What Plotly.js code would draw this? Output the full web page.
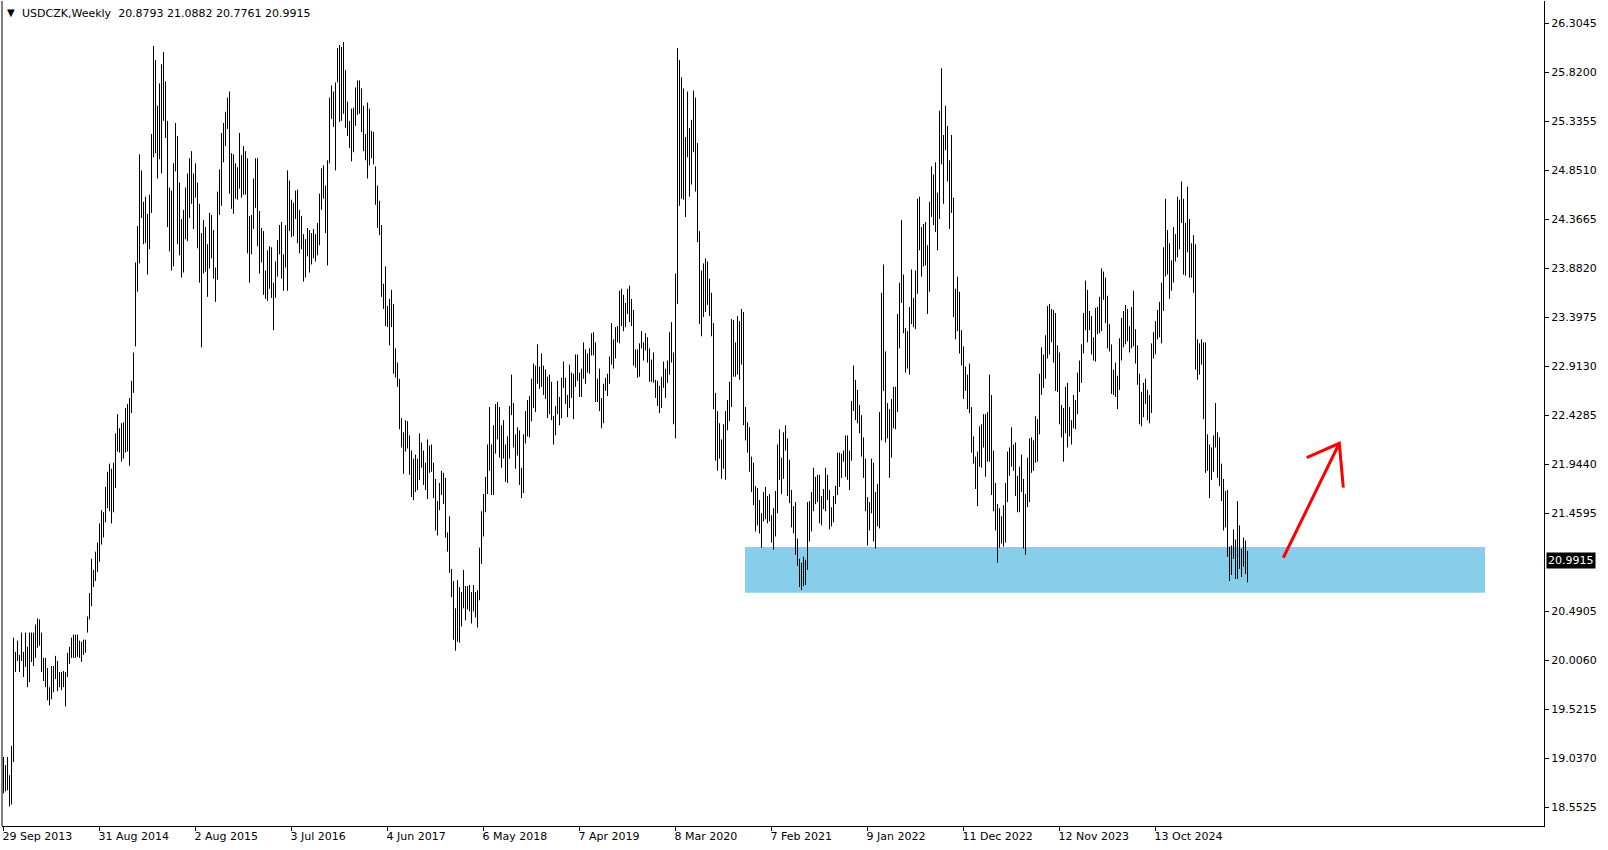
<!DOCTYPE html>
<html>
<head>
<meta charset="utf-8">
<script src="https://cdn.plot.ly/plotly-3.0.1.min.js"></script>
<style>
html,body{margin:0;padding:0;background:#fff;}
#chart{width:1608px;height:850px;}
</style>
</head>
<body>
<div id="chart"></div>
<script>
// USDCZK weekly bars, first bar = week of 29 Sep 2013
const symbolName = "USDCZK,Weekly";
const lastOpen = 20.8793;
const lastClose = 20.9915;

const highs = [
19.05,18.97,19.05,18.87,19.16,20.23,20.09,20.20,20.06,20.28,
20.09,20.28,20.14,20.28,20.28,20.28,20.36,20.42,20.41,20.28,
20.03,20.03,19.93,19.74,19.95,19.95,20.05,20.00,19.89,19.89,
19.90,19.89,20.08,20.14,20.23,20.26,20.26,20.26,20.20,20.19,
20.21,20.21,20.44,20.67,21.01,20.90,21.08,21.17,21.36,21.49,
21.47,21.72,21.87,21.95,21.90,21.96,22.25,22.44,22.30,22.35,
22.36,
22.50,22.54,22.60,22.77,23.05,23.94,24.30,25.01,24.85,24.54,
24.59,24.42,24.61,25.21,26.08,25.94,25.49,25.71,25.90,26.02,
25.73,25.34,24.68,24.65,24.92,25.32,25.19,24.73,24.37,24.46,
24.68,24.82,24.97,25.04,24.82,24.92,24.73,24.52,24.23,24.36,
24.29,24.12,24.43,24.41,24.26,23.89,24.64,24.86,25.22,25.32,
25.43,25.57,25.63,25.02,25.01,24.92,24.88,25.22,25.00,25.09,
25.04,24.97,24.40,
24.41,24.77,24.97,24.97,24.45,24.28,24.25,23.86,24.06,24.10,
24.09,23.74,23.95,24.16,24.31,24.34,24.02,24.31,24.85,24.75,
24.56,24.53,24.65,24.66,24.46,24.40,24.22,24.17,24.28,24.26,
24.23,24.27,24.22,24.33,24.62,24.87,24.90,24.70,24.95,25.57,
25.69,25.63,25.72,26.06,26.09,26.07,26.12,25.84,25.53,25.34,
25.46,25.47,25.67,25.74,25.74,25.66,25.49,25.21,25.52,25.46,
25.24,25.23,
24.89,24.70,24.55,24.31,23.73,23.90,23.51,23.58,23.67,23.53,
23.09,22.95,22.79,22.40,22.26,22.38,22.37,22.23,22.08,22.00,
22.04,22.00,22.25,22.16,22.08,21.96,22.19,22.13,22.14,21.96,
21.80,21.58,21.76,21.88,21.86,21.81,21.27,21.43,20.91,20.79,
20.52,20.80,20.73,20.68,20.90,20.74,20.74,20.75,20.68,20.75,
20.68,20.70,21.12,21.48,21.65,21.82,22.14,22.51,22.14,22.33,
22.54,22.56,22.51,
22.33,22.38,22.14,22.22,22.52,22.83,22.55,22.24,22.31,22.28,
21.91,22.24,22.47,22.58,22.62,22.79,22.94,22.92,23.13,22.91,
23.04,22.92,22.88,22.81,22.83,22.76,22.42,22.52,22.77,22.61,
22.80,22.96,22.80,22.63,22.93,22.85,22.84,23.03,23.03,22.85,
22.89,23.15,23.08,23.04,23.09,23.24,23.25,23.15,22.79,22.89,
22.60,22.74,22.80,22.84,23.01,23.34,23.18,23.30,23.31,23.66,
23.68,23.62,
23.54,23.68,23.71,23.58,23.47,23.08,23.08,23.14,23.26,23.15,
23.24,23.20,23.09,22.98,23.05,22.78,22.77,22.72,22.81,22.96,
22.89,22.97,23.25,23.35,23.05,23.83,26.06,25.94,25.77,25.66,
25.18,25.63,25.27,25.35,25.64,25.57,25.12,24.25,23.86,23.93,
23.98,23.95,23.78,23.64,23.34,22.65,22.47,22.35,22.19,22.34,
22.47,22.58,22.76,23.38,23.37,23.15,23.41,23.36,23.48,23.45,
22.51,22.36,22.31,
22.02,21.96,21.73,21.71,21.59,21.46,21.67,21.72,21.63,21.65,
21.44,21.51,21.68,22.14,22.29,22.01,22.26,22.33,22.20,21.99,
21.69,21.53,21.57,21.21,21.01,20.97,21.03,21.00,21.57,21.58,
21.67,21.91,21.82,21.84,21.84,21.63,21.70,21.91,21.84,21.69,
21.52,21.63,21.73,22.06,22.06,22.05,22.08,22.23,22.23,22.08,
22.57,22.92,22.78,22.68,22.53,22.43,22.21,22.00,21.62,21.57,
22.00,21.96,
21.67,21.75,22.46,23.64,23.92,23.06,22.55,22.49,22.59,22.71,
22.71,23.43,23.74,24.36,23.82,23.29,23.26,23.50,23.87,23.59,
23.86,24.57,24.59,24.29,24.32,24.34,24.11,24.54,24.89,24.81,
24.93,24.63,25.44,25.86,25.20,25.49,25.29,24.95,25.20,24.58,
23.68,23.80,23.65,23.27,23.11,22.91,22.83,22.94,22.51,22.22,
22.02,22.07,22.32,22.34,22.44,22.44,22.46,22.83,22.63,22.08,
21.76,21.55,21.51,
21.43,21.54,21.76,22.07,22.11,22.31,22.14,22.16,21.83,21.92,
22.04,21.80,21.65,22.01,22.20,22.21,22.18,22.42,22.39,22.84,
23.10,23.03,23.22,23.51,23.53,23.48,23.47,23.44,23.12,23.05,
22.53,22.50,22.71,22.75,22.51,22.38,22.63,22.58,22.85,22.97,
23.13,23.44,23.76,23.67,23.46,23.41,23.20,23.49,23.50,23.60,
23.88,23.85,23.79,23.61,23.33,23.13,22.88,22.95,22.82,23.19,
23.39,23.46,
23.52,23.48,23.31,23.50,23.66,23.28,23.12,22.84,22.66,22.75,
22.79,22.68,22.63,23.14,23.25,23.36,23.47,23.55,23.74,24.09,
24.57,24.26,24.13,23.96,24.29,24.22,24.59,24.56,24.74,24.57,
24.33,24.69,24.37,24.13,24.21,24.12,23.18,23.14,23.18,23.15,
23.15,22.24,22.14,22.11,22.23,22.55,22.26,22.21,21.95,21.80,
21.68,21.69,21.13,21.14,21.30,21.20,21.58,21.34,21.11,21.22,
21.19,21.0882
];

const lows = [
18.69,18.71,18.72,18.56,18.58,19.00,19.89,20.00,19.89,20.00,
19.84,19.94,19.74,19.79,19.99,19.95,20.03,20.13,20.15,19.89,
19.80,19.74,19.61,19.56,19.62,19.69,19.82,19.70,19.74,19.71,
19.74,19.55,19.84,19.97,20.03,20.03,20.03,20.04,20.03,19.99,
20.06,20.08,20.28,20.41,20.54,20.73,20.79,20.88,20.98,21.15,
21.22,21.37,21.51,21.48,21.36,21.47,21.71,22.07,22.06,21.97,
22.00,
22.06,22.07,21.93,22.45,22.65,23.11,23.65,23.93,24.38,24.12,
24.13,23.82,24.07,24.43,24.98,25.02,24.77,24.96,24.82,25.34,
25.17,24.29,24.05,23.86,23.90,24.84,24.12,24.01,23.79,23.84,
24.17,24.15,24.38,24.52,24.27,24.58,24.08,23.74,23.10,23.83,
23.85,23.60,23.88,23.98,23.78,23.55,23.77,24.41,24.50,24.93,
25.09,25.26,24.62,24.47,24.42,24.57,24.56,24.67,24.58,24.61,
24.61,24.03,23.74,
24.02,24.27,24.48,24.10,23.83,23.94,23.62,23.58,23.56,23.68,
23.59,23.27,23.59,23.80,24.02,23.78,23.66,23.89,23.66,24.25,
24.19,24.20,24.37,24.13,24.03,24.07,23.75,23.79,24.00,23.84,
23.92,23.98,23.95,24.01,24.11,24.46,24.57,24.23,23.91,24.92,
25.36,25.28,24.85,25.72,25.33,25.34,25.41,25.27,25.19,25.07,
24.94,25.03,25.29,25.40,25.41,25.23,25.04,24.95,24.77,24.90,
24.97,24.91,
24.51,24.28,24.21,23.60,23.48,23.31,23.30,23.12,23.30,22.84,
22.80,22.71,22.29,22.11,21.85,22.07,22.10,21.84,21.62,21.59,
21.67,21.69,21.79,21.91,21.74,21.69,21.60,21.86,21.87,21.61,
21.29,21.24,21.49,21.64,21.55,21.22,21.08,20.87,20.63,20.21,
20.10,20.19,20.18,20.34,20.52,20.40,20.51,20.49,20.37,20.49,
20.43,20.33,20.60,20.96,21.23,21.47,21.65,21.88,21.64,21.64,
22.05,22.19,22.01,
21.91,22.00,21.77,21.76,22.00,22.43,22.11,21.90,22.03,21.74,
21.61,21.66,22.15,22.22,22.21,22.37,22.50,22.46,22.74,22.69,
22.71,22.63,22.59,22.40,22.44,22.38,22.14,22.23,22.44,22.33,
22.40,22.70,22.54,22.41,22.50,22.60,22.39,22.71,22.77,22.61,
22.61,22.79,22.74,22.85,22.84,23.02,23.02,22.56,22.56,22.47,
22.30,22.35,22.67,22.62,22.74,22.93,22.89,22.99,23.15,23.14,
23.31,23.26,
23.30,23.43,23.35,23.31,22.92,22.90,22.80,22.81,23.09,22.97,
23.07,22.95,22.76,22.76,22.75,22.60,22.52,22.45,22.50,22.70,
22.60,22.75,22.83,22.95,22.34,22.20,23.53,24.50,24.57,24.56,
24.39,24.98,24.59,24.71,25.03,24.64,24.14,23.33,23.21,23.40,
23.45,23.52,23.41,23.21,22.49,21.98,21.88,22.00,21.80,21.90,
21.79,22.28,22.37,22.51,22.81,22.81,22.83,22.78,22.93,22.33,
22.18,22.06,21.87,
21.67,21.54,21.28,21.34,21.26,21.12,21.38,21.40,21.36,21.38,
21.17,21.10,21.23,21.46,21.79,21.65,21.80,22.08,21.63,21.56,
21.32,21.26,21.05,20.94,20.73,20.70,20.74,20.75,20.90,21.18,
21.28,21.48,21.55,21.57,21.36,21.34,21.50,21.48,21.59,21.30,
21.33,21.37,21.55,21.64,21.72,21.81,21.97,21.82,21.79,21.69,
21.98,22.47,22.38,22.35,22.25,22.02,21.81,21.48,21.14,21.29,
21.46,21.18,
21.11,21.33,21.31,22.18,22.67,22.16,22.20,21.81,22.01,22.30,
22.29,22.46,23.09,23.54,23.24,22.85,22.89,22.83,23.33,23.30,
23.28,23.63,24.06,23.80,23.90,23.91,23.43,23.65,24.39,24.31,
24.24,24.06,24.37,24.91,24.52,25.05,24.74,24.27,24.43,23.40,
23.18,23.26,23.04,22.92,22.59,22.67,22.49,22.45,22.06,21.95,
21.70,21.53,21.92,21.91,22.11,21.82,21.97,21.97,21.64,21.48,
21.29,20.97,21.12,
21.16,21.13,21.17,21.57,21.83,21.92,21.88,21.63,21.47,21.47,
21.67,21.11,21.05,21.52,21.57,21.86,21.88,21.96,21.97,22.24,
22.63,22.70,22.79,22.99,23.03,23.15,22.95,22.67,22.66,22.34,
22.21,21.97,22.25,22.11,22.22,22.14,22.30,22.29,22.44,22.66,
22.75,23.04,23.27,23.15,23.27,23.03,22.97,22.96,23.23,23.24,
23.26,23.57,23.34,23.09,23.06,22.64,22.63,22.61,22.49,22.68,
22.97,23.10,
23.13,23.16,23.05,23.09,23.11,22.94,22.73,22.34,22.32,22.41,
22.54,22.38,22.35,22.45,22.99,23.03,23.18,23.20,23.14,23.46,
23.80,23.82,23.58,23.66,23.74,23.95,23.99,24.07,24.33,23.82,
23.81,24.04,23.79,23.79,23.64,22.88,22.78,22.83,22.93,22.39,
21.86,21.88,21.61,21.79,21.87,22.11,21.81,21.73,21.58,21.29,
21.32,21.03,20.79,20.85,21.01,20.81,20.81,20.91,20.83,20.93,
20.86,20.7761
];

const dateLabels = ['29 Sep 2013','31 Aug 2014','2 Aug 2015','3 Jul 2016','4 Jun 2017','6 May 2018',
  '7 Apr 2019','8 Mar 2020','7 Feb 2021','9 Jan 2022','11 Dec 2022','12 Nov 2023','13 Oct 2024'];
const labelStep = 48; // weeks between axis labels
const priceTicks = [18.5525,19.0370,19.5215,20.0060,20.4905,20.9750,21.4595,21.9440,22.4285,
  22.9130,23.3975,23.8820,24.3665,24.8510,25.3355,25.8200,26.3045];
const zoneTop = 21.126, zoneBottom = 20.674;

// build bar segments
const bx = [], by = [];
for (let i = 0; i < highs.length; i++) {
  bx.push(i, i, null);
  by.push(lows[i], highs[i], null);
}
const lastIdx = highs.length - 1;
const shownTicks = priceTicks.filter(v => Math.abs(v - lastClose) > 0.1);

const FONT = "DejaVu Sans, Verdana, sans-serif";

const trace = {
  type: 'scatter', mode: 'lines', x: bx, y: by,
  line: {color: '#000000', width: 1}, hoverinfo: 'skip', connectgaps: false
};

const layout = {
  width: 1608, height: 850,
  margin: {l: 2, r: 64, t: 1, b: 24, pad: 0},
  paper_bgcolor: '#ffffff', plot_bgcolor: '#ffffff',
  showlegend: false,
  font: {family: FONT, size: 11, color: '#000000'},
  xaxis: {
    range: [-0.75, 770.25], showgrid: false, zeroline: false,
    tickmode: 'array',
    tickvals: dateLabels.map((_, k) => k * labelStep),
    ticktext: dateLabels,
    ticks: 'outside', ticklen: 4, tickcolor: '#000', tickwidth: 1,
    ticklabelposition: 'outside right', ticklabelshift: -2,
    showline: true, linecolor: '#000', linewidth: 1,
    tickfont: {family: FONT, size: 11, color: '#000'}
  },
  yaxis: {
    range: [18.3676, 26.525], side: 'right', showgrid: false, zeroline: false,
    tickmode: 'array', tickvals: shownTicks, ticktext: shownTicks.map(v => v.toFixed(4)),
    ticks: 'outside', ticklen: 4, tickcolor: '#000', tickwidth: 1,
    showline: true, linecolor: '#000', linewidth: 1,
    tickfont: {family: FONT, size: 11, color: '#000'}
  },
  shapes: [
    {type: 'rect', xref: 'x', yref: 'y', x0: 370.75, x1: 740.75, y0: zoneBottom, y1: zoneTop,
     fillcolor: '#87CEEB', line: {width: 0}, layer: 'below'},
    {type: 'line', xref: 'paper', yref: 'paper', x0: 0, x1: 0, y0: 0, y1: 1,
     line: {color: '#000', width: 1}},
    {type: 'path', xref: 'x', yref: 'y',
     path: 'M 639.9 21.02 L 667.9 22.152 M 651.6 22.009 L 667.9 22.152 L 669.9 21.713',
     line: {color: '#FF0000', width: 3}}
  ],
  annotations: [
    {xref: 'paper', yref: 'paper', x: 0, y: 1, xanchor: 'left', yanchor: 'top',
     xshift: 3, yshift: -4, text: '▼', showarrow: false,
     font: {family: FONT, size: 10, color: '#000'}},
    {xref: 'paper', yref: 'paper', x: 0, y: 1, xanchor: 'left', yanchor: 'top',
     xshift: 18, yshift: -4, showarrow: false,
     text: symbolName + '  ' + lastOpen.toFixed(4) + ' ' + highs[lastIdx].toFixed(4) + ' ' +
           lows[lastIdx].toFixed(4) + ' ' + lastClose.toFixed(4),
     font: {family: FONT, size: 11, color: '#000'}},
    {xref: 'paper', yref: 'y', x: 1, y: lastClose, xanchor: 'left', yanchor: 'middle',
     xshift: 2, showarrow: false, text: lastClose.toFixed(4),
     bgcolor: '#000000', borderpad: 1,
     font: {family: FONT, size: 11, color: '#ffffff'}}
  ]
};

Plotly.newPlot('chart', [trace], layout, {displayModeBar: false, staticPlot: true});
</script>
</body>
</html>
